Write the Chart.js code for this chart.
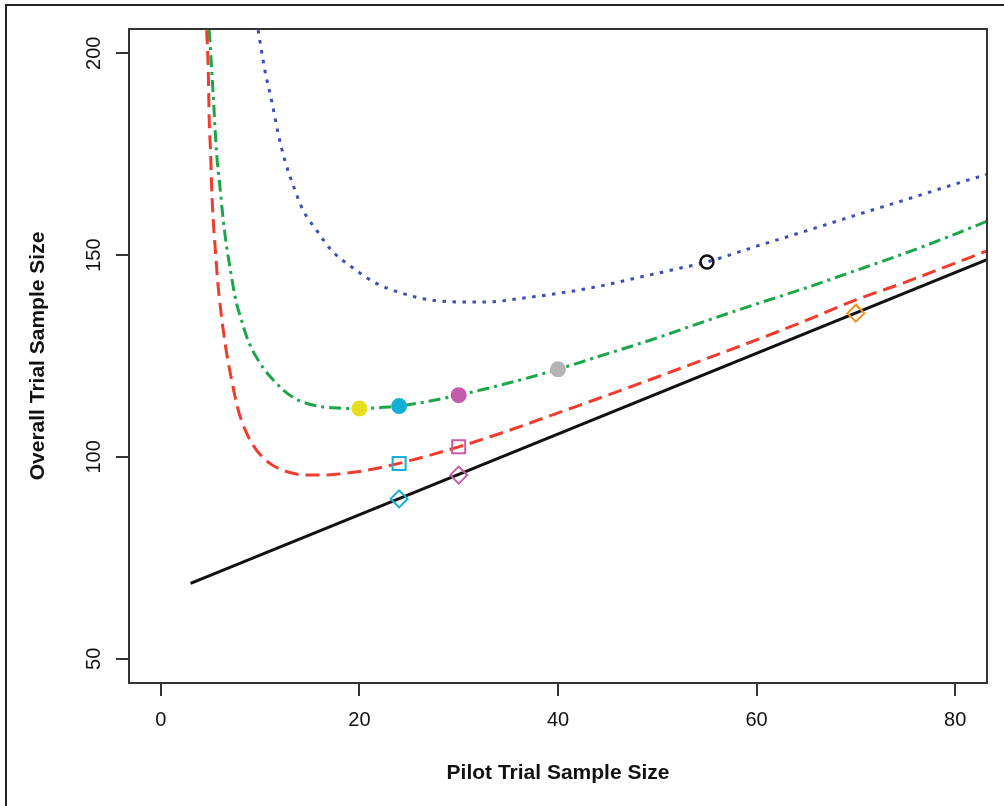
<!DOCTYPE html>
<html>
<head>
<meta charset="utf-8">
<title>Pilot vs overall trial sample size</title>
<script src="https://cdn.jsdelivr.net/npm/chart.js@4.4.0/dist/chart.umd.min.js"></script>
<style>
  html, body { margin: 0; padding: 0; background: #fff; }
  canvas { display: block; }
</style>
</head>
<body>
<canvas id="sampleChart" width="1004" height="806"></canvas>
<script>
// tick labels
const xTicks = [0, 20, 40, 60, 80];
const yTicks = [50, 100, 150, 200];

// solid black line
const blackX = [3, 84];
const blackY = [68.7, 149.7];

// red dashed curve
const redX = [4.62, 4.78, 4.88, 5.02, 5.12, 5.28, 5.52, 5.72, 5.96, 6.29, 6.63, 7.13, 7.8, 8.64, 9.64, 10.98, 12.66, 14.67, 16.68, 18, 20, 24, 30, 35, 40, 45, 50, 55, 60, 65, 70, 75, 80, 84];
const redY = [205.7, 195.8, 183.4, 175.2, 166.9, 158.7, 150.4, 143.8, 138.0, 131.4, 125.7, 119.1, 111.6, 105.9, 101.7, 98.4, 96.4, 95.5, 95.5, 95.8, 96.4, 98.4, 102.5, 106.5, 110.9, 115.3, 119.8, 124.4, 129.0, 133.8, 138.9, 143.3, 148.0, 151.8];

// green dash-dot curve
const greenX = [4.88, 5.28, 5.62, 5.96, 6.29, 6.63, 6.96, 7.29, 7.63, 8.13, 8.64, 9.14, 9.8, 10.48, 11.31, 12.32, 13.49, 14.67, 16, 17.84, 20, 22, 24, 27, 30, 35, 40, 44, 50, 54.2, 60, 65, 69.2, 75, 80, 84];
const greenY = [205.7, 189.6, 175.2, 166.9, 158.7, 152.1, 147.1, 142.2, 138.0, 133.9, 129.8, 126.9, 124.0, 121.5, 119.1, 116.6, 114.5, 113.3, 112.5, 112.1, 112.0, 112.2, 112.6, 113.8, 115.3, 118.3, 121.7, 124.8, 129.5, 133.1, 137.9, 141.9, 145.5, 150.5, 155.2, 159.2];

// blue dotted curve
const blueX = [9.8, 10.48, 11.15, 11.82, 12.49, 13.39, 14.33, 15.67, 17.18, 19.19, 21.7, 24.37, 27.05, 30, 33, 36, 40, 44, 48, 52, 55, 60, 65, 70, 75, 80, 84];
const blueY = [205.7, 195.8, 188.4, 180.1, 173.5, 166.9, 161.1, 156.2, 151.2, 147.1, 143.0, 140.5, 138.9, 138.4, 138.4, 139.2, 140.5, 142.2, 144.4, 146.6, 148.3, 152.2, 156.0, 159.9, 163.7, 167.6, 170.6];

// markers
const filledX = [20, 24, 30, 40];
const filledY = [112.0, 112.6, 115.3, 121.7];
const openCircleX = [55];
const openCircleY = [148.3];
const squareX = [24, 30];
const squareY = [98.4, 102.5];
const diamondX = [24, 30, 70];
const diamondY = [89.6, 95.5, 135.6];

const filledColors = ['#e6df1f', '#12aed6', '#c65bab', '#b4b4b4'];
const squareColors = ['#14aed6', '#c65bab'];
const diamondColors = ['#14aed6', '#c65bab', '#ef9420'];

const FONT = '"Liberation Sans", Arial, Helvetica, sans-serif';
Chart.defaults.font.family = FONT;

const pts = (xs, ys) => xs.map((x, i) => ({ x: x, y: ys[i] }));

const curve = (data, color, dash) => ({
    type: 'line',
    data: data,
    borderColor: color,
    borderWidth: 3,
    borderDash: dash,
    pointRadius: 0,
    fill: false,
    cubicInterpolationMode: 'monotone',
    order: 2,
    clip: 0
});

// R-like box, rotated y tick labels and the outer frame
const rStyle = {
    id: 'rStyle',
    afterDatasetsDraw(chart) {
        const { ctx, chartArea: a } = chart;
        ctx.save();
        ctx.strokeStyle = '#333';
        ctx.lineWidth = 2;
        ctx.strokeRect(a.left, a.top, a.right - a.left, a.bottom - a.top);
        ctx.restore();
    },
    afterDraw(chart) {
        const ctx = chart.ctx;
        const y = chart.scales.y;
        ctx.save();
        ctx.fillStyle = '#111';
        ctx.font = '20px ' + FONT;
        ctx.textAlign = 'center';
        ctx.textBaseline = 'alphabetic';
        yTicks.forEach(v => {
            ctx.save();
            ctx.translate(100, y.getPixelForValue(v));
            ctx.rotate(-Math.PI / 2);
            ctx.fillText(String(v), 0, 0);
            ctx.restore();
        });
        ctx.strokeStyle = '#222';
        ctx.lineWidth = 2;
        ctx.beginPath();
        ctx.moveTo(6, 806);
        ctx.lineTo(6, 5);
        ctx.lineTo(1004, 5);
        ctx.stroke();
        ctx.restore();
    }
};

const tickGrid = { drawOnChartArea: false, drawTicks: true, tickLength: 13, color: '#333', lineWidth: 2 };

new Chart(document.getElementById('sampleChart').getContext('2d'), {
    type: 'scatter',
    data: {
        datasets: [
            { data: pts(filledX, filledY), pointStyle: 'circle', pointRadius: 8, pointBorderWidth: 0,
              pointBackgroundColor: filledColors, pointBorderColor: filledColors, order: 1 },
            { data: pts(openCircleX, openCircleY), pointStyle: 'circle', pointRadius: 6.5, pointBorderWidth: 2.5,
              pointBackgroundColor: 'rgba(0,0,0,0)', pointBorderColor: '#111', order: 1 },
            { data: pts(squareX, squareY), pointStyle: 'rect', pointRadius: 9.2, pointBorderWidth: 2,
              pointBackgroundColor: 'rgba(0,0,0,0)', pointBorderColor: squareColors, order: 1 },
            { data: pts(diamondX, diamondY), pointStyle: 'rectRot', pointRadius: 8.5, pointBorderWidth: 2,
              pointBackgroundColor: 'rgba(0,0,0,0)', pointBorderColor: diamondColors, order: 1 },
            curve(pts(blackX, blackY), '#111', []),
            curve(pts(redX, redY), '#f03c2e', [14, 7]),
            curve(pts(greenX, greenY), '#1ca64a', [12, 5, 3, 5]),
            curve(pts(blueX, blueY), '#3d4db7', [3.5, 6.5])
        ]
    },
    options: {
        responsive: false,
        animation: false,
        layout: { padding: { top: 29, right: 17, left: 0, bottom: 0 } },
        plugins: { legend: { display: false }, tooltip: { enabled: false } },
        scales: {
            x: {
                type: 'linear',
                min: -3.2,
                max: 83.2,
                afterBuildTicks: s => { s.ticks = xTicks.map(v => ({ value: v })); },
                afterFit: s => { s.height = 123; },
                grid: tickGrid,
                border: { display: false },
                ticks: { color: '#111', font: { size: 20 }, padding: 12, maxRotation: 0 },
                title: { display: true, text: 'Pilot Trial Sample Size', color: '#111',
                         font: { size: 21, weight: 'bold' }, padding: { top: 0, bottom: 20 } }
            },
            y: {
                type: 'linear',
                min: 44,
                max: 206,
                afterBuildTicks: s => { s.ticks = yTicks.map(v => ({ value: v })); },
                afterFit: s => { s.width = 129; },
                grid: tickGrid,
                border: { display: false },
                ticks: { display: false },
                title: { display: true, text: 'Overall Trial Sample Size', color: '#111',
                         font: { size: 21, weight: 'bold' }, padding: { top: 26, bottom: 0 } }
            }
        }
    },
    plugins: [rStyle]
});
</script>
</body>
</html>
